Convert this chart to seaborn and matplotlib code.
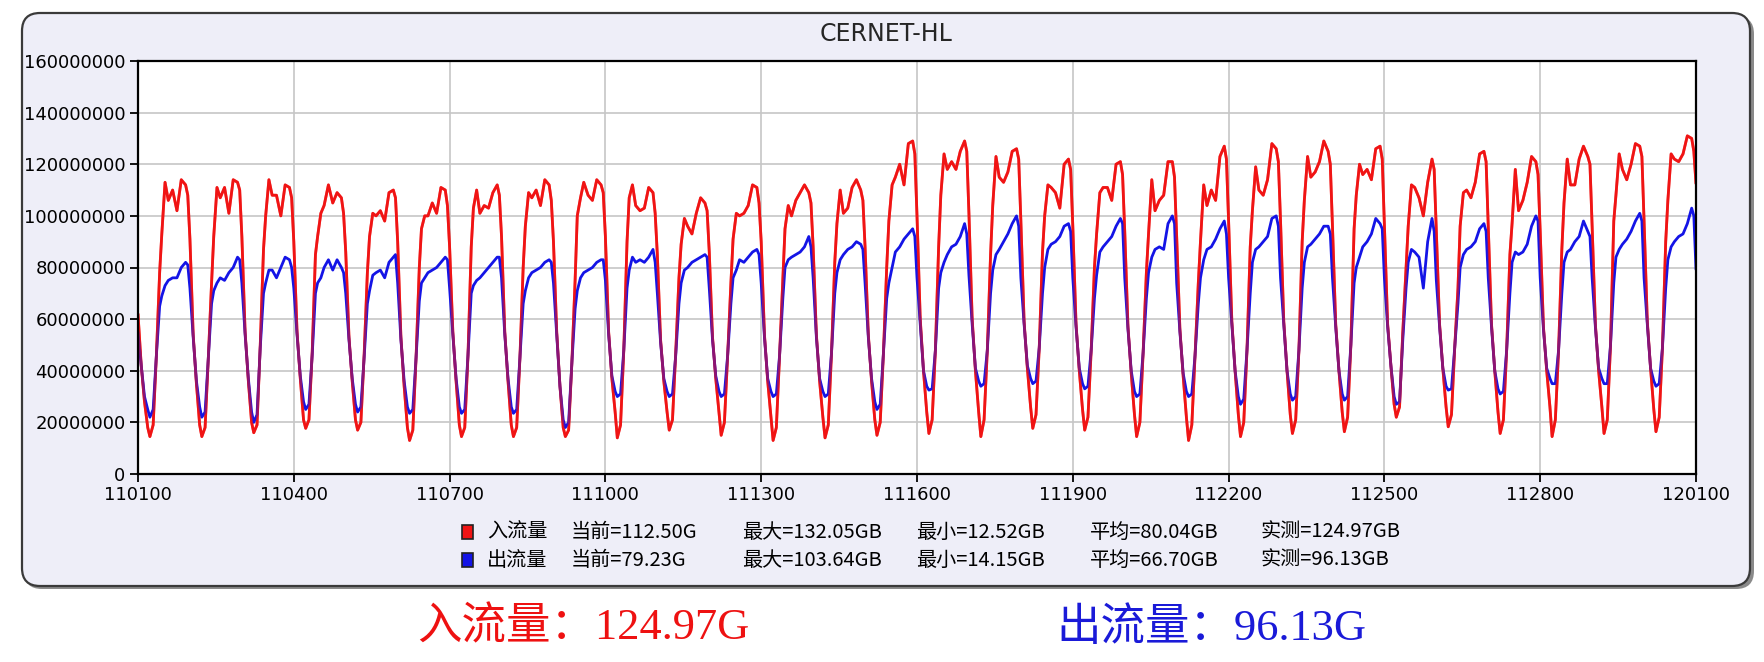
import numpy as np
import pandas as pd
import matplotlib
matplotlib.use("Agg")
import matplotlib.pyplot as plt
from matplotlib.patches import FancyBboxPatch, Rectangle
from matplotlib.transforms import IdentityTransform
import seaborn as sns

# sample hours inside each day (values below, in millions)
HOURS = [0, 1.5, 3, 4.5, 5.5, 7, 8.5, 10, 11, 12.5, 14, 16, 18, 20, 22, 23]

IN_TRAFFIC = [
    [62, 42, 28, 18, 14.5, 19, 46, 78, 93, 113, 106, 110, 102, 114, 112, 108],
    [91, 54, 35, 19, 14.5, 18, 45, 74, 92, 111, 107, 111, 101, 114, 113, 110],
    [92, 55, 36, 20, 16, 19, 50, 87, 100, 114, 108, 108, 100, 112, 111, 107],
    [90, 55, 37, 21, 17.7, 21, 47, 85, 92, 101, 104, 112, 105, 109, 107, 101],
    [86, 53, 36, 21, 17, 20, 46, 78, 92, 101, 100, 102, 98, 109, 110, 107],
    [90, 53, 34, 18, 13, 17, 45, 80, 95, 100, 100, 105, 101, 111, 110, 104],
    [88, 55, 36, 19, 14.5, 18, 46, 88, 103, 110, 101, 104, 103, 109, 112, 108],
    [92, 55, 36, 19, 14.5, 18, 45, 80, 96, 109, 107, 110, 104, 114, 112, 106],
    [90, 55, 34, 18, 14.5, 17, 43, 75, 100, 107, 113, 108, 106, 114, 112, 109],
    [92, 55, 37, 24, 14, 19, 48, 90, 107, 112, 104, 102, 103, 111, 109, 101],
    [85, 52, 36, 24, 17, 21, 47, 76, 89, 99, 96, 93, 101, 107, 105, 102],
    [86, 53, 37, 24, 15, 20, 46, 74, 91, 101, 100, 101, 104, 112, 111, 105],
    [90, 54, 36, 22, 13, 18, 46, 75, 95, 104, 100, 106, 109, 112, 109, 105],
    [88, 54, 36, 22, 14, 19, 47, 82, 97, 110, 101, 103, 111, 114, 110, 106],
    [88, 54, 36, 21, 15, 20, 47, 80, 98, 112, 115, 120, 112, 128, 129, 124],
    [100, 60, 40, 24, 15.7, 21, 48, 88, 108, 124, 118, 121, 118, 125, 129, 125],
    [101, 60, 40, 24, 14.5, 21, 48, 85, 104, 123, 115, 113, 117, 125, 126, 122],
    [98, 59, 41, 26, 17.7, 23, 49, 86, 100, 112, 111, 109, 103, 120, 122, 118],
    [96, 58, 40, 25, 17, 22, 48, 80, 93, 109, 111, 111, 106, 120, 121, 116],
    [94, 57, 39, 23, 14.5, 20, 47, 78, 93, 114, 102, 106, 108, 121, 121, 115],
    [92, 56, 38, 22, 13, 19, 46, 74, 90, 112, 104, 110, 106, 123, 127, 122],
    [98, 59, 40, 23, 14.5, 20, 48, 88, 102, 119, 110, 108, 114, 128, 126, 121],
    [98, 59, 40, 23, 15.7, 21, 48, 90, 106, 123, 115, 117, 121, 129, 125, 120],
    [96, 58, 40, 24, 16.4, 22, 50, 95, 108, 120, 116, 118, 114, 126, 127, 122],
    [96, 58, 42, 27, 22, 26, 55, 80, 96, 112, 111, 107, 100, 113, 122, 118],
    [94, 58, 41, 26, 18.3, 23, 49, 72, 96, 109, 110, 107, 113, 124, 125, 121],
    [96, 58, 40, 24, 15.7, 21, 48, 85, 97, 118, 102, 106, 113, 123, 121, 116],
    [94, 57, 40, 26, 14.5, 21, 48, 87, 105, 122, 112, 112, 122, 127, 123, 120],
    [96, 58, 40, 26, 15.7, 21, 50, 98, 108, 124, 118, 114, 120, 128, 127, 123],
    [98, 59, 41, 25, 16.4, 22, 49, 90, 106, 124, 122, 121, 124, 131, 130, 125],
]

OUT_TRAFFIC = [
    [55, 42, 30, 25, 22, 25, 46, 65, 69, 73, 75, 76, 76, 80, 82, 81],
    [72, 53, 36, 26, 22, 24, 45, 66, 71, 74, 76, 75, 78, 80, 84, 83],
    [74, 54, 37, 24, 20, 23, 49, 70, 74, 79, 79, 76, 80, 84, 83, 80],
    [72, 54, 38, 28, 25, 27, 46, 70, 74, 76, 80, 83, 79, 83, 80, 78],
    [70, 52, 37, 27, 24, 26, 45, 66, 71, 77, 78, 79, 76, 82, 84, 85],
    [74, 52, 36, 26, 23.5, 25, 45, 67, 74, 76, 78, 79, 80, 82, 84, 83],
    [72, 54, 37, 26, 23.5, 25, 46, 70, 73, 75, 76, 78, 80, 82, 84, 84],
    [76, 54, 37, 26, 23.5, 25, 45, 66, 71, 76, 78, 79, 80, 82, 83, 82],
    [74, 54, 34, 21, 18, 20, 43, 64, 71, 76, 78, 79, 80, 82, 83, 83],
    [75, 54, 38, 32, 30, 31, 48, 72, 79, 84, 82, 83, 82, 84, 87, 82],
    [70, 51, 37, 32, 30, 31, 46, 66, 74, 79, 80, 82, 83, 84, 85, 84],
    [72, 52, 38, 32, 30, 31, 46, 66, 76, 79, 83, 82, 84, 86, 87, 85],
    [74, 53, 37, 32, 30, 31, 46, 68, 80, 83, 84, 85, 86, 88, 92, 88],
    [76, 53, 37, 32, 30, 31, 47, 70, 78, 83, 85, 87, 88, 90, 89, 87],
    [74, 53, 37, 28, 25, 27, 47, 68, 74, 80, 86, 88, 91, 93, 95, 92],
    [76, 58, 40, 34, 32.5, 33, 48, 72, 78, 82, 85, 88, 89, 92, 97, 93],
    [77, 58, 41, 36, 34, 35, 48, 70, 79, 85, 87, 90, 93, 97, 100, 96],
    [76, 58, 42, 37, 35, 36, 49, 70, 80, 87, 89, 90, 92, 96, 97, 94],
    [76, 57, 41, 35, 33, 34, 48, 68, 77, 86, 88, 90, 92, 96, 99, 97],
    [76, 56, 40, 32, 30, 31, 47, 68, 78, 84, 87, 88, 87, 97, 100, 97],
    [74, 55, 39, 32, 30, 31, 46, 66, 76, 83, 87, 88, 91, 95, 98, 93],
    [76, 58, 40, 30, 27, 29, 48, 70, 82, 87, 88, 90, 92, 99, 100, 96],
    [76, 58, 40, 31, 28.6, 30, 48, 72, 82, 88, 89, 91, 93, 96, 96, 93],
    [76, 57, 40, 31, 28.6, 30, 50, 74, 80, 84, 88, 90, 93, 99, 97, 95],
    [76, 57, 42, 30, 27, 28, 52, 72, 82, 87, 86, 84, 72, 90, 99, 94],
    [75, 57, 41, 34, 32.5, 33, 49, 66, 80, 85, 87, 88, 90, 95, 97, 94],
    [76, 57, 40, 33, 31, 32, 48, 70, 82, 86, 85, 86, 89, 96, 100, 98],
    [76, 56, 41, 37, 35, 35, 48, 70, 82, 86, 87, 90, 92, 98, 94, 92],
    [76, 57, 41, 37, 35, 35, 50, 74, 84, 87, 89, 91, 94, 98, 101, 98],
    [76, 58, 41, 36, 34, 35, 49, 72, 83, 88, 90, 92, 93, 97, 103, 100],
]

# last sample at 120100 (the "current" values)
LAST_IN = 112.5
LAST_OUT = 79.2

TICK_DAYS = [0, 3, 6, 9, 12, 15, 18, 21, 24, 27, 30]
TICK_LABELS = ['110100', '110400', '110700', '111000', '111300', '111600',
               '111900', '112200', '112500', '112800', '120100']
Y_TICKS = [0, 20000000, 40000000, 60000000, 80000000,
           100000000, 120000000, 140000000, 160000000]

LEGEND_IN = ['入流量', '当前=112.50G', '最大=132.05GB', '最小=12.52GB', '平均=80.04GB', '实测=124.97GB']
LEGEND_OUT = ['出流量', '当前=79.23G', '最大=103.64GB', '最小=14.15GB', '平均=66.70GB', '实测=96.13GB']
FOOT_IN = '入流量：124.97G'
FOOT_OUT = '出流量：96.13G'

RED = '#f01414'
BLUE = '#1414e6'

# build the time series table
rows = []
for d in range(30):
    for h, vi, vo in zip(HOURS, IN_TRAFFIC[d], OUT_TRAFFIC[d]):
        rows.append((d + h / 24.0, vi * 1e6, vo * 1e6))
rows.append((30.0, LAST_IN * 1e6, LAST_OUT * 1e6))
df = pd.DataFrame(rows, columns=['t', 'inflow', 'outflow'])

sns.set_style("white")
plt.rcParams['font.family'] = ['DejaVu Sans', 'Noto Sans CJK SC']

W, H = 1765, 662
fig = plt.figure(figsize=(W / 100, H / 100), dpi=100)
fig.patch.set_facecolor('white')

# rounded lavender panel with a soft shadow
shadow = FancyBboxPatch((24, 73), 1730, 573, boxstyle="round,pad=0,rounding_size=18",
                        transform=IdentityTransform(), facecolor='#8a8a8a',
                        edgecolor='none', zorder=-3)
panel = FancyBboxPatch((22, 76), 1728, 573, boxstyle="round,pad=0,rounding_size=18",
                       transform=IdentityTransform(), facecolor='#eeeef8',
                       edgecolor='#3a3a3a', linewidth=1.6, zorder=-2)
fig.patches.extend([shadow, panel])

ax = fig.add_axes([138 / W, 1 - 474 / H, (1696 - 138) / W, (474 - 61) / H])
ax.set_facecolor('white')

sns.lineplot(data=df, x='t', y='inflow', ax=ax, color=RED, linewidth=2.0,
             estimator=None, sort=False)
sns.lineplot(data=df, x='t', y='outflow', ax=ax, color=BLUE, linewidth=2.0,
             estimator=None, sort=False)
# red again, half transparent, so overlapping parts turn purple
sns.lineplot(data=df, x='t', y='inflow', ax=ax, color=RED, linewidth=2.0,
             alpha=0.55, estimator=None, sort=False)

ax.set_xlim(0, 30)
ax.set_ylim(0, 160000000)
ax.set_xticks(TICK_DAYS)
ax.set_xticklabels(TICK_LABELS)
ax.set_yticks(Y_TICKS)
ax.set_yticklabels([str(v) for v in Y_TICKS])
ax.set_xlabel('')
ax.set_ylabel('')
ax.grid(True, color='#c6c6c6', linewidth=1.2)
ax.set_axisbelow(True)
ax.tick_params(direction='out', length=6, width=1.3, labelsize=13, pad=3,
               colors='black', left=True, bottom=True)
for s in ax.spines.values():
    s.set_color('black')
    s.set_linewidth(1.6)

fig.text(886 / W, 1 - 34 / H, 'CERNET-HL', ha='center', va='center', fontsize=17)

# legend block
legend_x = [487, 571, 742, 916, 1090, 1261]
cjk = ['Noto Sans CJK SC', 'DejaVu Sans']
for row_y, color, labels in [(532, RED, LEGEND_IN), (560, BLUE, LEGEND_OUT)]:
    fig.patches.append(Rectangle((462, H - row_y - 7), 11, 14, transform=IdentityTransform(),
                                 facecolor=color, edgecolor='#222222', linewidth=1.2))
    for x, txt in zip(legend_x, labels):
        fig.text(x / W, 1 - row_y / H, txt, ha='left', va='center', fontsize=14.5,
                 family=cjk, color='black')

serif = ['Liberation Serif', 'Noto Sans CJK SC']
fig.text(417 / W, 1 - 628 / H, FOOT_IN, ha='left', va='center', fontsize=32,
         family=serif, color='#ee1111')
fig.text(1056 / W, 1 - 628 / H, FOOT_OUT, ha='left', va='center', fontsize=32,
         family=serif, color='#1a1ad8')

fig.savefig('out.png', dpi=100)
